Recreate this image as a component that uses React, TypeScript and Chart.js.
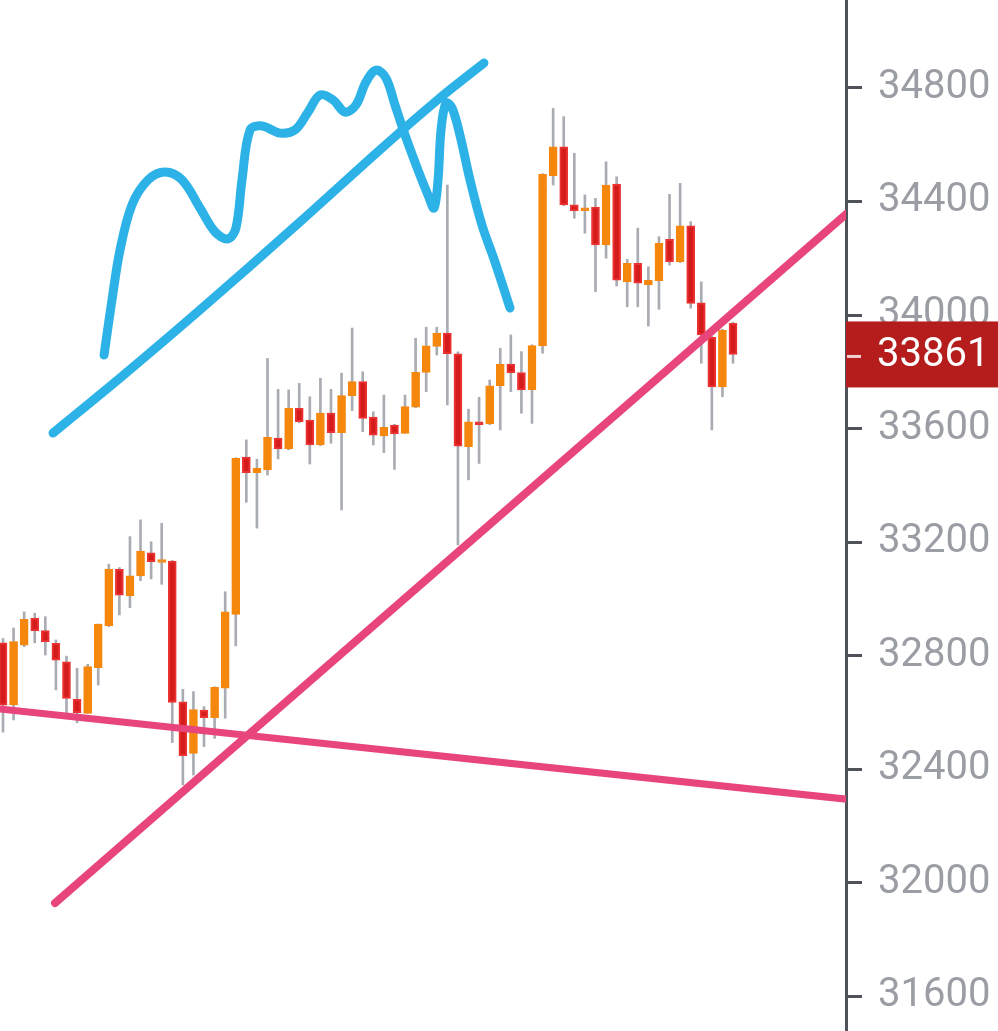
import React, { useEffect, useRef } from 'react';
import { Chart, registerables } from 'chart.js';

Chart.register(...registerables);

// ---- candle data (one entry per candle, oldest first) ----
const opens = [
  32845, 32626, 32837, 32931, 32888, 32843, 32778, 32646, 32596, 32757,
  32905, 33104, 33010, 33081, 33162, 33128, 33133, 32637, 32455, 32608,
  32581, 32685, 32945, 33499, 33444, 33454, 33566, 33528, 33671, 33630,
  33542, 33654, 33585, 33716, 33765, 33640, 33574, 33612, 33583, 33675,
  33798, 33889, 33936, 33863, 33536, 33624, 33616, 33750, 33827, 33797,
  33736, 33891, 34490, 34593, 34388, 34368, 34380, 34247, 34461, 34117,
  34182, 34106, 34121, 34267, 34188, 34314, 34043, 33921, 33747, 33971,
];
const highs = [
  32860, 32897, 32954, 32949, 32937, 32855, 32798, 32755, 32769, 32911,
  33122, 33110, 33219, 33278, 33201, 33266, 33135, 32681, 32673, 32620,
  32690, 33025, 33497, 33560, 33492, 33847, 33738, 33736, 33759, 33712,
  33777, 33738, 33795, 33954, 33800, 33659, 33718, 33615, 33718, 33918,
  33957, 33957, 34458, 33870, 33668, 33710, 33771, 33883, 33930, 33871,
  33895, 34498, 34728, 34699, 34570, 34423, 34411, 34540, 34487, 34196,
  34306, 34170, 34276, 34425, 34464, 34329, 34117, 33925, 33950, 33975,
];
const lows = [
  32530, 32573, 32831, 32845, 32802, 32679, 32596, 32563, 32596, 32696,
  32902, 32943, 32969, 33064, 33070, 33051, 32493, 32344, 32379, 32479,
  32508, 32579, 32834, 33340, 33249, 33436, 33493, 33525, 33620, 33475,
  33540, 33548, 33313, 33663, 33589, 33542, 33515, 33456, 33583, 33673,
  33730, 33859, 33683, 33190, 33419, 33477, 33614, 33595, 33730, 33654,
  33618, 33865, 34458, 34385, 34341, 34288, 34082, 34200, 34102, 34029,
  34029, 33961, 34020, 34176, 34185, 34024, 33830, 33595, 33712, 33830,
];
const closes = [
  32625, 32849, 32928, 32888, 32849, 32784, 32649, 32599, 32761, 32911,
  33104, 33013, 33081, 33168, 33131, 33138, 32635, 32447, 32610, 32581,
  32688, 32954, 33495, 33444, 33460, 33569, 33528, 33671, 33624, 33542,
  33654, 33585, 33716, 33765, 33636, 33577, 33604, 33581, 33677, 33798,
  33891, 33936, 33863, 33538, 33624, 33614, 33750, 33827, 33797, 33736,
  33892, 34496, 34593, 34388, 34368, 34378, 34247, 34458, 34123, 34182,
  34112, 34123, 34253, 34188, 34314, 34041, 33930, 33747, 33947, 33861,
];

const yTicks = [31600, 32000, 32400, 32800, 33200, 33600, 34000, 34400, 34800];
const lastPrice = 33861;

// ---- hand-drawn annotations, in (candle index, price) ----
const pinkFlatX = [-0.3, 79.7];
const pinkFlatY = [32612, 32294];
const pinkRiseX = [4.92, 79.7];
const pinkRiseY = [31928, 34356];

const blueWaveX = [
  9.55, 10.3, 11.06, 12.19, 13.71, 15.31, 16.92, 18.62, 20.04, 21.27,
  22.02, 22.59, 23.35, 24.48, 26.18, 27.6, 28.83, 29.96, 31.19, 32.33,
  33.36, 34.31, 35.26, 36.2, 37.05, 38.0, 39.22, 40.17, 40.74, 41.12,
  41.4, 41.87, 42.44, 43.19, 44.14, 45.27, 46.5, 47.92,
];
const blueWaveY = [
  33859, 34053, 34229, 34388, 34476, 34504, 34476, 34377, 34293, 34268,
  34307, 34476, 34652, 34666, 34641, 34652, 34715, 34775, 34758, 34715,
  34740, 34821, 34863, 34835, 34740, 34634, 34511, 34423, 34377, 34476,
  34652, 34747, 34730, 34634, 34476, 34317, 34187, 34025,
];
const blueLineX = [4.73, 11.06, 18.62, 28.07, 35.63, 41.3, 45.46];
const blueLineY = [33584, 33778, 34018, 34328, 34582, 34765, 34888];

const X_MIN = -0.284;
const X_MAX = 79.68;

const UP = '#f5870d';
const DOWN = '#d41c1c';
const DOWN_EDGE = '#ec3131';
const WICK = '#a9acb3';
const PINK = '#e8457d';
const BLUE = '#2db2e8';

const priceTag = {
  id: 'priceTag',
  afterDraw(chart: any) {
    const { ctx, chartArea, scales } = chart;
    const y = scales.y.getPixelForValue(lastPrice);
    ctx.save();
    ctx.fillStyle = '#b51d1d';
    ctx.fillRect(chartArea.right, y - 33, chart.width - chartArea.right, 66);
    ctx.strokeStyle = '#f3d0d0';
    ctx.lineWidth = 3;
    ctx.beginPath();
    ctx.moveTo(chartArea.right + 1, y + 2);
    ctx.lineTo(chartArea.right + 15, y + 2);
    ctx.stroke();
    ctx.fillStyle = '#ffffff';
    ctx.font = '40px Roboto';
    ctx.textAlign = 'left';
    ctx.textBaseline = 'middle';
    ctx.fillText(String(lastPrice), chartArea.right + 31, y + 2);
    ctx.restore();
  },
};

export default function App() {
  const canvasRef = useRef<HTMLCanvasElement | null>(null);

  useEffect(() => {
    if (!canvasRef.current) return;
    const idx = opens.map((_, i) => i);
    const isUp = idx.map((i) => closes[i] >= opens[i]);

    const toPts = (xs: number[], ys: number[]) => xs.map((x, i) => ({ x, y: ys[i] }));

    const chart = new Chart(canvasRef.current, {
      type: 'bar',
      data: {
        datasets: [
          {
            type: 'line',
            data: toPts(pinkFlatX, pinkFlatY),
            borderColor: PINK,
            borderWidth: 7,
            pointRadius: 0,
            order: 0,
            clip: 0,
          } as any,
          {
            type: 'line',
            data: toPts(pinkRiseX, pinkRiseY),
            borderColor: PINK,
            borderWidth: 8,
            pointRadius: 0,
            order: 0,
            clip: 0,
            borderCapStyle: 'round',
          } as any,
          {
            type: 'line',
            data: toPts(blueWaveX, blueWaveY),
            borderColor: BLUE,
            borderWidth: 9,
            pointRadius: 0,
            tension: 0.35,
            borderCapStyle: 'round',
            borderJoinStyle: 'round',
            order: 0,
          } as any,
          {
            type: 'line',
            data: toPts(blueLineX, blueLineY),
            borderColor: BLUE,
            borderWidth: 9,
            pointRadius: 0,
            tension: 0.3,
            borderCapStyle: 'round',
            borderJoinStyle: 'round',
            order: 0,
          } as any,
          {
            type: 'bar',
            data: idx.map((i) => ({ x: i, y: [opens[i], closes[i]] })),
            backgroundColor: idx.map((i) => (isUp[i] ? UP : DOWN)),
            borderColor: idx.map((i) => (isUp[i] ? UP : DOWN_EDGE)),
            borderWidth: 2,
            borderSkipped: false,
            barThickness: 8,
            grouped: false,
            order: 1,
          } as any,
          {
            type: 'bar',
            data: idx.map((i) => ({ x: i, y: [lows[i], highs[i]] })),
            backgroundColor: WICK,
            borderWidth: 0,
            barThickness: 2,
            grouped: false,
            order: 2,
          } as any,
        ],
      },
      options: {
        animation: false,
        responsive: false,
        maintainAspectRatio: false,
        layout: { padding: 0 },
        plugins: {
          legend: { display: false },
          tooltip: { enabled: false },
        },
        scales: {
          x: {
            type: 'linear',
            min: X_MIN,
            max: X_MAX,
            offset: false,
            display: false,
          },
          y: {
            position: 'right',
            min: 31477,
            max: 35110,
            afterBuildTicks: (s: any) => {
              s.ticks = yTicks.map((v) => ({ value: v }));
            },
            afterFit: (s: any) => {
              s.width = 152;
              s.paddingTop = 0;
              s.paddingBottom = 0;
            },
            grid: {
              drawOnChartArea: false,
              drawTicks: true,
              tickLength: 16,
              tickWidth: 3,
              tickColor: '#4f525a',
            },
            border: { display: true, color: '#4f525a', width: 3 },
            ticks: {
              color: '#9b9da4',
              font: { family: 'Roboto', size: 40 },
              padding: 16,
              callback: (v: any) => String(v),
            },
          },
        },
      } as any,
      plugins: [priceTag],
    });
    return () => chart.destroy();
  }, []);

  return (
    <div style={{ position: 'fixed', left: 0, top: 0, width: 998, height: 1031, background: '#ffffff' }}>
      <canvas ref={canvasRef} width={998} height={1031} style={{ display: 'block' }} />
    </div>
  );
}
